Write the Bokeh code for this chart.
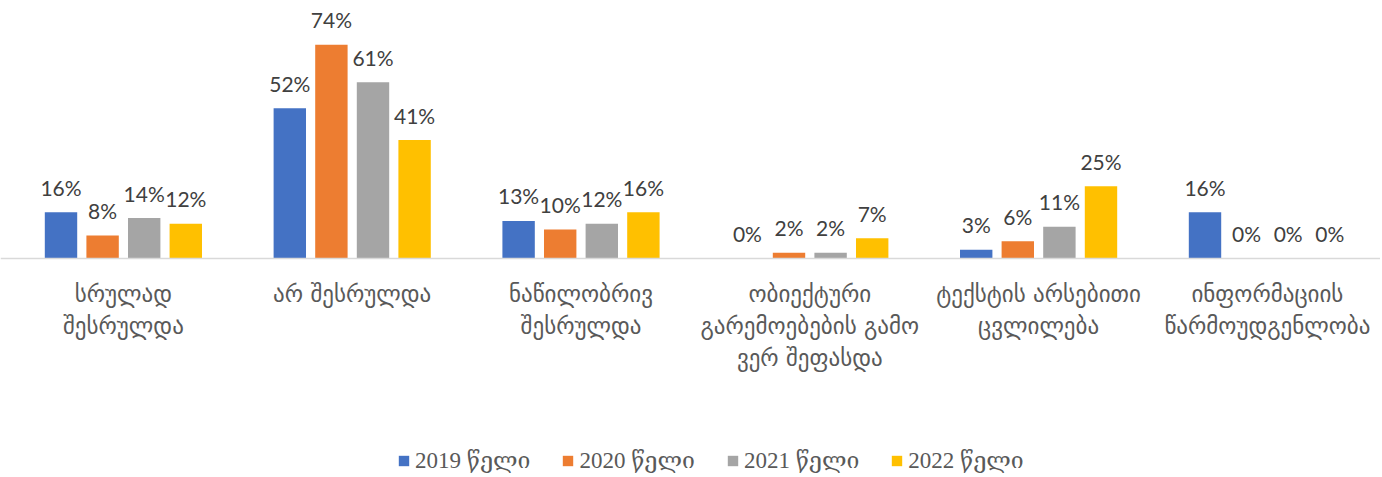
from bokeh.plotting import figure
from bokeh.models import ColumnDataSource, Range1d, Span
from bokeh.transform import dodge
from bokeh.core.properties import value
from bokeh.embed import file_html
from bokeh.resources import INLINE

categories = [
    ["სრულად", "შესრულდა"],
    ["არ შესრულდა"],
    ["ნაწილობრივ", "შესრულდა"],
    ["ობიექტური", "გარემოებების გამო", "ვერ შეფასდა"],
    ["ტექსტის არსებითი", "ცვლილება"],
    ["ინფორმაციის", "წარმოუდგენლობა"],
]
series_names = ["2019 წელი", "2020 წელი", "2021 წელი", "2022 წელი"]
v2019 = [16, 52, 13, 0, 3, 16]
v2020 = [8, 74, 10, 2, 6, 0]
v2021 = [14, 61, 12, 2, 11, 0]
v2022 = [12, 41, 16, 7, 25, 0]
colors = ["#4472C4", "#ED7D31", "#A5A5A5", "#FFC000"]

W, H = 1380, 474
cat_px = 228.8
px_per = 2.89
base_from_top = 258
x0 = -8.5 / cat_px
p = figure(width=W, height=H, output_backend="svg", toolbar_location=None,
           x_range=Range1d(x0, x0 + W / cat_px),
           y_range=Range1d(-(H - base_from_top) / px_per, base_from_top / px_per),
           min_border=0, outline_line_color=None)
p.xaxis.visible = False
p.yaxis.visible = False
p.grid.visible = False

xs = [i + 0.5 for i in range(len(categories))]
src = ColumnDataSource(dict(x=xs, v0=v2019, v1=v2020, v2=v2021, v3=v2022,
                            l0=[f"{v}%" for v in v2019], l1=[f"{v}%" for v in v2020],
                            l2=[f"{v}%" for v in v2021], l3=[f"{v}%" for v in v2022]))

p.add_layout(Span(location=0, dimension="width", line_color="#D9D9D9", line_width=1.5))

pitch = 0.1818
bw = 0.1416
for k in range(4):
    off = (k - 1.5) * pitch
    p.vbar(x=dodge("x", off), top=f"v{k}", width=bw, bottom=0, source=src,
           fill_color=colors[k], line_color=None, legend_label=series_names[k])
    p.text(x=dodge("x", off), y=f"v{k}", text=f"l{k}", source=src,
           text_font=value("Lato"), text_font_size="21px", text_color="#404040",
           text_align="center", text_baseline="middle", y_offset=-25)

lx, ly, lt, lo = [], [], [], []
for i, lines in enumerate(categories):
    for j, t in enumerate(lines):
        lx.append(xs[i]); ly.append(0); lt.append(t); lo.append(35 + 32 * j)
p.text(x="x", y="y", text="t", y_offset="o",
       source=ColumnDataSource(dict(x=lx, y=ly, t=lt, o=lo)),
       text_font=value("DejaVu Sans"), text_font_size="23px", text_color="#595959",
       text_align="center", text_baseline="middle")

lg = p.legend[0]
lg.location = (397, 0)
lg.orientation = "horizontal"
lg.border_line_color = None
lg.background_fill_alpha = 0
lg.label_text_font = "Liberation Serif, DejaVu Serif"
lg.label_text_font_size = "23px"
lg.label_text_color = "#595959"
lg.glyph_width = 13
lg.glyph_height = 13
lg.label_standoff = 5
lg.spacing = 31
lg.padding = 0
lg.margin = 0

open("out.html", "w").write(file_html(p, INLINE))
